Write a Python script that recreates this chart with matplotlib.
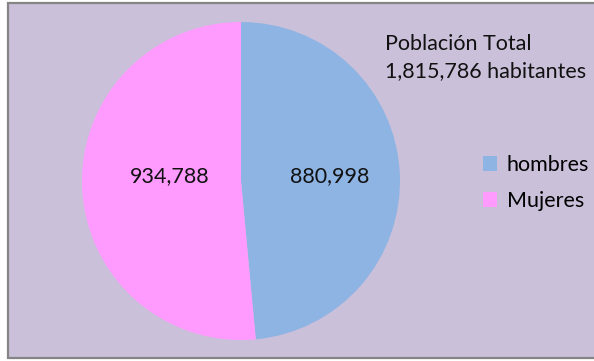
import numpy as np
import matplotlib
matplotlib.use("Agg")
import matplotlib.pyplot as plt
from matplotlib.patches import Rectangle

plt.rcParams['font.family'] = ['Lato', 'DejaVu Sans']

labels = ["hombres", "Mujeres"]
values = [880998, 934788]
colors = ["#8EB4E3", "#FF9BFF"]
total = sum(values)

bg = "#CAC0DA"
W, H = 594, 361
fs = 15.5

fig = plt.figure(figsize=(W / 100, H / 100), dpi=100)
fig.patch.set_facecolor("white")

# chart area with gray frame (open on the right side)
fig.patches.append(Rectangle((8 / W, 3 / H), 1.0, 355 / H, transform=fig.transFigure,
                             facecolor=bg, edgecolor="#858585", linewidth=1.6, zorder=-1))

cx, cy, r = 241, 180, 159
ax = fig.add_axes([(cx - r) / W, (cy - r) / H, 2 * r / W, 2 * r / H])
ax.set_zorder(1)
ax.set_facecolor("none")
wedges, _ = ax.pie(values, colors=colors, startangle=90, counterclock=False,
                   radius=1.0, wedgeprops=dict(linewidth=0))
ax.set_xlim(-1, 1)
ax.set_ylim(-1, 1)
ax.set_aspect("equal")
ax.axis("off")

# value labels inside the slices
dist = [0.56, 0.45]
for w, v, d in zip(wedges, values, dist):
    mid = np.deg2rad((w.theta1 + w.theta2) / 2)
    ax.text(d * np.cos(mid), 0.03, f"{v:,}", ha="center", va="center",
            fontsize=fs, color="#111111")

fig.text(385 / W, 1 - 44 / H, "Población Total", fontsize=fs, color="#111111",
         ha="left", va="center")
fig.text(385 / W, 1 - 71 / H, f"{total:,} habitantes", fontsize=fs, color="#111111",
         ha="left", va="center")

fig.legend(wedges, labels, loc="center left", bbox_to_anchor=(483 / W, 1 - 183 / H),
           frameon=False, fontsize=fs, handlelength=0.65, handleheight=0.65,
           handletextpad=0.45, labelspacing=0.75, borderaxespad=0, borderpad=0)

fig.savefig("out.png", dpi=100, facecolor=fig.get_facecolor())
